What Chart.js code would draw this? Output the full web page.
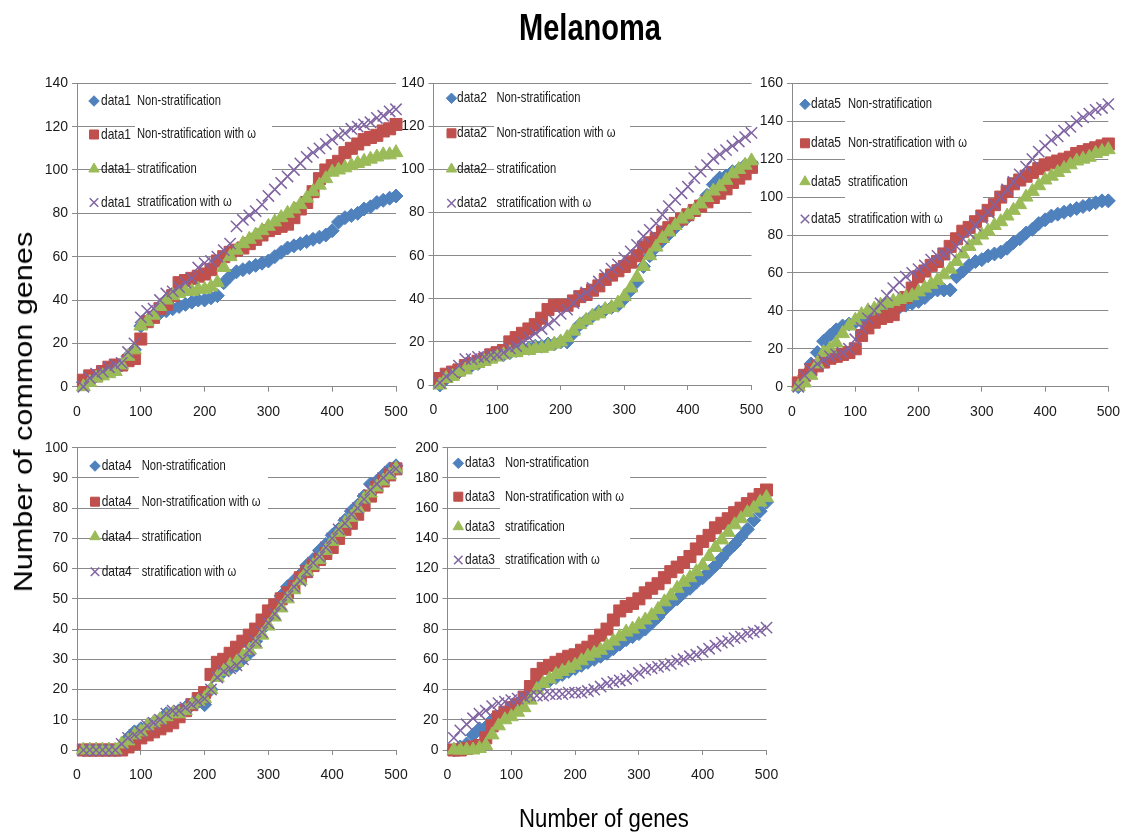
<!DOCTYPE html>
<html>
<head>
<meta charset="utf-8">
<script src="https://cdn.jsdelivr.net/npm/chart.js@4"></script>
<style>
  html, body { margin: 0; padding: 0; background: #fff; }
  #page { position: relative; width: 1132px; height: 834px; overflow: hidden; background: #fff; }
  #page canvas { position: absolute; left: 0; top: 0; }
  .txt { position: absolute; left: 0; top: 0; white-space: nowrap; color: #000;
         font-family: 'Liberation Sans', Arial, sans-serif; line-height: 1; }
  #title { font-size: 36px; font-weight: bold; }
  #xtitle { font-size: 25px; }
  #ytitle { font-size: 26px; }
</style>
</head>
<body>
<div id="page">
  <div id="title" class="txt">Melanoma</div>
  <div id="xtitle" class="txt">Number of genes</div>
  <div id="ytitle" class="txt">Number of common genes</div>
</div>
<script>
// ---- values ----
const genes = [10, 20, 30, 40, 50, 60, 70, 80, 90, 100,
               110, 120, 130, 140, 150, 160, 170, 180, 190, 200,
               210, 220, 230, 240, 250, 260, 270, 280, 290, 300,
               310, 320, 330, 340, 350, 360, 370, 380, 390, 400,
               410, 420, 430, 440, 450, 460, 470, 480, 490, 500];
const xTicks = [0, 100, 200, 300, 400, 500];
const seriesNames = ['Non-stratification', 'Non-stratification with ω', 'stratification', 'stratification with ω'];

// data1
const data1NonStrat  = [2, 4, 5, 6, 8, 9, 10, 14, 17, 28, 30, 32, 34, 35, 36, 37, 38, 39, 40, 40, 41, 42, 48, 51, 53, 54, 55, 56, 57, 58, 60, 62, 64, 65, 66, 67, 68, 69, 70, 72, 76, 78, 79, 80, 82, 83, 85, 86, 87, 88];
const data1NonStratW = [3, 5, 5, 7, 9, 10, 10, 12, 13, 22, 30, 32, 36, 38, 42, 48, 49, 50, 51, 52, 54, 58, 60, 62, 63, 64, 66, 68, 70, 72, 73, 74, 75, 78, 82, 85, 90, 96, 100, 102, 104, 108, 110, 112, 114, 115, 116, 118, 119, 121];
const data1Strat     = [0, 2, 4, 5, 6, 7, 10, 14, 17, 28, 30, 33, 37, 40, 42, 43, 44, 44, 45, 45, 46, 48, 55, 60, 63, 66, 68, 70, 72, 74, 76, 78, 80, 82, 84, 87, 90, 93, 96, 99, 100, 101, 102, 103, 104, 105, 106, 107, 107, 108];
const data1StratW    = [0, 4, 6, 7, 9, 10, 11, 16, 20, 32, 35, 36, 40, 43, 44, 46, 48, 50, 55, 57, 58, 60, 63, 66, 74, 77, 79, 81, 84, 88, 91, 94, 97, 100, 103, 106, 108, 110, 112, 114, 116, 117, 119, 120, 121, 122, 124, 125, 127, 128];

// data2
const data2NonStrat  = [0, 3, 5, 6, 8, 9, 10, 12, 13, 14, 14, 15, 16, 17, 17, 18, 18, 19, 19, 20, 20, 24, 28, 30, 32, 34, 35, 36, 37, 40, 44, 48, 55, 60, 64, 67, 70, 73, 76, 78, 81, 84, 88, 93, 96, 97, 99, 100, 102, 103];
const data2NonStratW = [3, 5, 6, 7, 9, 10, 11, 12, 14, 15, 16, 20, 22, 24, 26, 28, 31, 35, 37, 37, 37, 39, 41, 42, 44, 46, 49, 51, 53, 55, 57, 60, 64, 66, 68, 71, 73, 75, 77, 79, 81, 83, 85, 87, 89, 91, 94, 96, 98, 101];
const data2Strat     = [0, 3, 4, 6, 7, 9, 10, 11, 12, 13, 14, 15, 15, 16, 16, 17, 17, 18, 19, 20, 22, 25, 28, 30, 32, 33, 35, 36, 38, 41, 45, 50, 55, 60, 64, 68, 71, 74, 77, 79, 81, 84, 87, 90, 92, 95, 98, 100, 102, 104];
const data2StratW    = [1, 4, 6, 9, 12, 12, 13, 13, 14, 14, 15, 17, 18, 20, 22, 24, 26, 28, 30, 33, 35, 38, 41, 43, 45, 48, 51, 54, 56, 59, 62, 65, 69, 72, 75, 79, 83, 86, 89, 92, 96, 99, 102, 105, 107, 109, 111, 113, 115, 117];

// data5
const data5NonStrat  = [0, 6, 12, 18, 24, 27, 30, 32, 33, 34, 35, 37, 38, 39, 40, 41, 42, 43, 44, 45, 47, 50, 51, 51, 51, 58, 61, 64, 66, 67, 69, 70, 71, 73, 76, 78, 81, 83, 86, 88, 90, 91, 92, 93, 94, 95, 96, 97, 98, 98];
const data5NonStratW = [2, 6, 9, 11, 13, 15, 16, 17, 18, 20, 27, 31, 34, 36, 37, 38, 43, 47, 52, 58, 61, 64, 66, 70, 74, 78, 82, 84, 87, 90, 93, 96, 100, 103, 107, 109, 111, 113, 115, 117, 118, 119, 120, 121, 123, 124, 125, 126, 127, 128];
const data5Strat     = [0, 2, 6, 12, 18, 20, 23, 28, 32, 35, 38, 40, 41, 43, 44, 45, 46, 47, 48, 50, 52, 54, 56, 59, 62, 66, 70, 74, 77, 80, 82, 85, 87, 90, 93, 96, 100, 103, 106, 109, 111, 113, 115, 117, 119, 120, 121, 123, 124, 125];
const data5StratW    = [0, 6, 9, 12, 14, 16, 17, 18, 20, 25, 31, 36, 40, 44, 48, 52, 55, 58, 60, 62, 64, 67, 69, 70, 71, 74, 78, 81, 85, 89, 92, 96, 100, 104, 108, 112, 116, 120, 124, 127, 130, 132, 135, 137, 140, 142, 144, 146, 147, 149];

// data4
const data4NonStrat  = [0, 0, 0, 0, 0, 0, 1, 4, 6, 7, 8, 9, 10, 12, 12, 13, 14, 15, 16, 15, 20, 25, 26, 27, 28, 30, 32, 36, 40, 44, 48, 51, 54, 56, 58, 61, 63, 66, 68, 71, 73, 76, 79, 81, 84, 88, 89, 91, 93, 94];
const data4NonStratW = [0, 0, 0, 0, 0, 0, 0, 1, 2, 4, 5, 6, 7, 8, 9, 11, 13, 15, 17, 19, 25, 29, 30, 32, 34, 36, 38, 40, 43, 46, 48, 50, 52, 54, 57, 59, 61, 63, 65, 67, 70, 73, 75, 78, 81, 84, 87, 89, 91, 93];
const data4Strat     = [0, 0, 0, 0, 0, 0, 2, 3, 5, 6, 8, 9, 10, 11, 12, 12, 13, 15, 16, 17, 20, 24, 26, 28, 29, 31, 33, 35, 38, 41, 44, 47, 50, 53, 56, 59, 61, 63, 66, 69, 72, 75, 77, 80, 83, 85, 87, 89, 91, 93];
const data4StratW    = [0, 0, 0, 0, 0, 0, 2, 4, 5, 6, 8, 9, 10, 12, 13, 13, 14, 15, 16, 17, 20, 24, 26, 27, 28, 30, 33, 36, 39, 42, 45, 48, 51, 54, 56, 59, 62, 64, 67, 70, 73, 75, 78, 80, 83, 86, 88, 90, 92, 93];

// data3
const data3NonStrat  = [0, 2, 4, 10, 14, 15, 20, 22, 24, 27, 30, 34, 40, 42, 44, 46, 48, 50, 52, 54, 56, 58, 60, 62, 64, 67, 70, 73, 75, 77, 80, 84, 88, 93, 97, 100, 104, 107, 111, 114, 118, 122, 127, 132, 136, 141, 146, 152, 158, 164];
const data3NonStratW = [0, 0, 1, 2, 3, 8, 16, 22, 25, 28, 30, 35, 42, 50, 54, 56, 58, 60, 62, 63, 66, 68, 72, 76, 80, 86, 92, 95, 97, 100, 104, 107, 110, 114, 118, 121, 124, 128, 133, 138, 142, 147, 150, 153, 157, 160, 163, 166, 169, 172];
const data3Strat     = [0, 0, 0, 0, 1, 3, 10, 16, 20, 22, 25, 28, 33, 40, 44, 47, 50, 52, 54, 56, 59, 62, 64, 66, 69, 72, 75, 78, 80, 83, 86, 89, 93, 98, 102, 107, 111, 114, 118, 122, 128, 134, 139, 144, 149, 153, 157, 160, 164, 167];
const data3StratW    = [8, 13, 17, 21, 24, 26, 29, 31, 32, 33, 34, 35, 36, 36, 36, 37, 37, 37, 38, 38, 38, 39, 40, 42, 44, 45, 46, 47, 49, 51, 53, 54, 55, 56, 57, 59, 60, 62, 63, 65, 67, 69, 71, 72, 74, 75, 77, 78, 79, 81];

// ---- marker styles (Office palette) ----
const markerStyles = [
  { pointStyle: 'rectRot',  color: '#4F81BD', radius: 7,   border: 1 },
  { pointStyle: 'rect',     color: '#C0504D', radius: 8.5, border: 1 },
  { pointStyle: 'triangle', color: '#9BBB59', radius: 8,   border: 1 },
  { pointStyle: 'crossRot', color: '#8064A2', radius: 8,   border: 1.5 }
];

// ---- panel layout (pixel geometry of each plot) ----
const panels = [
  { tag: 'data1', series: [data1NonStrat, data1NonStratW, data1Strat, data1StratW], yMax: 140, yStep: 20,
    x0: 77, x1: 396, yTop: 83.3, yBot: 386.7,
    legend: { markerX: 94, tagX: 101, labelX: 137, rows: [101, 134.5, 169, 202.5], box: [135, 89, 272, 210] } },
  { tag: 'data2', series: [data2NonStrat, data2NonStratW, data2Strat, data2StratW], yMax: 140, yStep: 20,
    x0: 433.5, x1: 751.5, yTop: 83.3, yBot: 385,
    legend: { markerX: 451.5, tagX: 457, labelX: 496.5, rows: [98.3, 133.3, 169, 203.3], box: [494, 89, 630, 210] } },
  { tag: 'data5', series: [data5NonStrat, data5NonStratW, data5Strat, data5StratW], yMax: 160, yStep: 20,
    x0: 792, x1: 1111, yTop: 83.3, yBot: 386.7,
    legend: { markerX: 805, tagX: 811, labelX: 848, rows: [104.3, 143.3, 181.7, 219], box: [845, 90, 983, 228] } },
  { tag: 'data4', series: [data4NonStrat, data4NonStratW, data4Strat, data4StratW], yMax: 100, yStep: 10,
    x0: 77, x1: 396, yTop: 447.7, yBot: 750,
    legend: { markerX: 95, tagX: 101.7, labelX: 141.7, rows: [466, 501.7, 536.7, 571.7], box: [139, 453, 268, 587] } },
  { tag: 'data3', series: [data3NonStrat, data3NonStratW, data3Strat, data3StratW], yMax: 200, yStep: 20,
    x0: 447.5, x1: 766.5, yTop: 447.7, yBot: 750,
    legend: { markerX: 458.3, tagX: 465, labelX: 505, rows: [463.3, 496.7, 526.7, 560], box: [500, 453, 630, 587] } }
];

const PAGE_W = 1132, PAGE_H = 834;
const Y_AXIS_W = 40, X_AXIS_H = 34;
const GRID = '#8a8a8a';
const TICK_FONT = { family: "'Liberation Sans', Arial, sans-serif", size: 14 };

// in-plot legend: white label panel, marker, series tag, description
const boxLegend = {
  id: 'boxLegend',
  beforeDatasetsDraw(chart, args, opts) {
    const L = opts.layout;
    if (!L) return;
    const ctx = chart.ctx;
    ctx.save();
    ctx.fillStyle = '#fff';
    ctx.fillRect(L.box[0], L.box[1], L.box[2] - L.box[0], L.box[3] - L.box[1]);
    chart.data.datasets.forEach((ds, i) => {
      const y = L.rows[i];
      ctx.fillStyle = ds.backgroundColor;
      ctx.strokeStyle = ds.borderColor;
      ctx.lineWidth = ds.borderWidth;
      Chart.helpers.drawPoint(ctx, {
        pointStyle: ds.pointStyle, rotation: 0,
        radius: ds.pointRadius * 0.75, borderWidth: ds.borderWidth
      }, L.markerX, y);
      ctx.fillStyle = '#1a1a1a';
      ctx.textBaseline = 'middle';
      ctx.textAlign = 'left';
      ctx.save();
      ctx.translate(L.tagX, y);
      ctx.scale(0.8, 1);
      ctx.font = "15px 'Liberation Sans', Arial, sans-serif";
      ctx.fillText(opts.tag, 0, 0);
      ctx.restore();
      ctx.save();
      ctx.translate(L.labelX, y);
      ctx.scale(0.8, 1);
      ctx.font = "14px 'Liberation Sans', Arial, sans-serif";
      ctx.fillText(seriesNames[i], 0, 0);
      ctx.restore();
    });
    ctx.restore();
  }
};

const page = document.getElementById('page');

panels.forEach((p) => {
  const canvas = document.createElement('canvas');
  canvas.width = PAGE_W;
  canvas.height = PAGE_H;
  canvas.style.width = PAGE_W + 'px';
  canvas.style.height = PAGE_H + 'px';
  page.appendChild(canvas);

  const datasets = p.series.map((vals, i) => {
    const m = markerStyles[i];
    return {
      label: p.tag + ' ' + seriesNames[i],
      data: genes.map((g, k) => ({ x: g, y: vals[k] })),
      showLine: false,
      pointStyle: m.pointStyle,
      pointRadius: m.radius,
      pointHoverRadius: m.radius,
      backgroundColor: m.color,
      borderColor: m.color,
      borderWidth: m.border,
      pointBorderWidth: m.border,
      clip: false,
      order: 4 - i
    };
  });

  new Chart(canvas, {
    type: 'scatter',
    data: { datasets },
    plugins: [boxLegend],
    options: {
      responsive: false,
      animation: false,
      events: [],
      layout: {
        padding: {
          left: p.x0 - Y_AXIS_W,
          right: PAGE_W - p.x1,
          top: p.yTop,
          bottom: PAGE_H - p.yBot - X_AXIS_H
        }
      },
      plugins: {
        legend: { display: false },
        tooltip: { enabled: false },
        title: { display: false },
        boxLegend: { layout: p.legend, tag: p.tag }
      },
      scales: {
        x: {
          type: 'linear',
          min: xTicks[0],
          max: xTicks[xTicks.length - 1],
          afterBuildTicks: (s) => { s.ticks = xTicks.map(v => ({ value: v })); },
          afterFit: (s) => { s.height = X_AXIS_H; },
          grid: { drawOnChartArea: false, drawTicks: true, tickLength: 5, color: GRID },
          border: { color: GRID, width: 1 },
          ticks: { font: TICK_FONT, color: '#1a1a1a', padding: 12, maxRotation: 0, autoSkip: false }
        },
        y: {
          min: 0,
          max: p.yMax,
          ticks: { stepSize: p.yStep, font: TICK_FONT, color: '#1a1a1a', padding: 4 },
          afterFit: (s) => { s.width = Y_AXIS_W; },
          grid: { color: GRID, tickLength: 5, lineWidth: 1 },
          border: { color: GRID, width: 1 }
        }
      }
    }
  });
});

// titles: centred on a point and fitted to a given width
function placeText(id, cx, cy, width, rotate) {
  const el = document.getElementById(id);
  const w = el.offsetWidth;
  const s = width / w;
  el.style.left = cx + 'px';
  el.style.top = cy + 'px';
  el.style.transform = 'translate(-50%, -50%)' + (rotate ? ' rotate(-90deg)' : '') + ' scaleX(' + s + ')';
  el.style.zIndex = 5;
}
placeText('title', 590, 28, 142, false);
placeText('xtitle', 604, 818, 170, false);
placeText('ytitle', 23, 412, 360, true);
</script>
</body>
</html>
